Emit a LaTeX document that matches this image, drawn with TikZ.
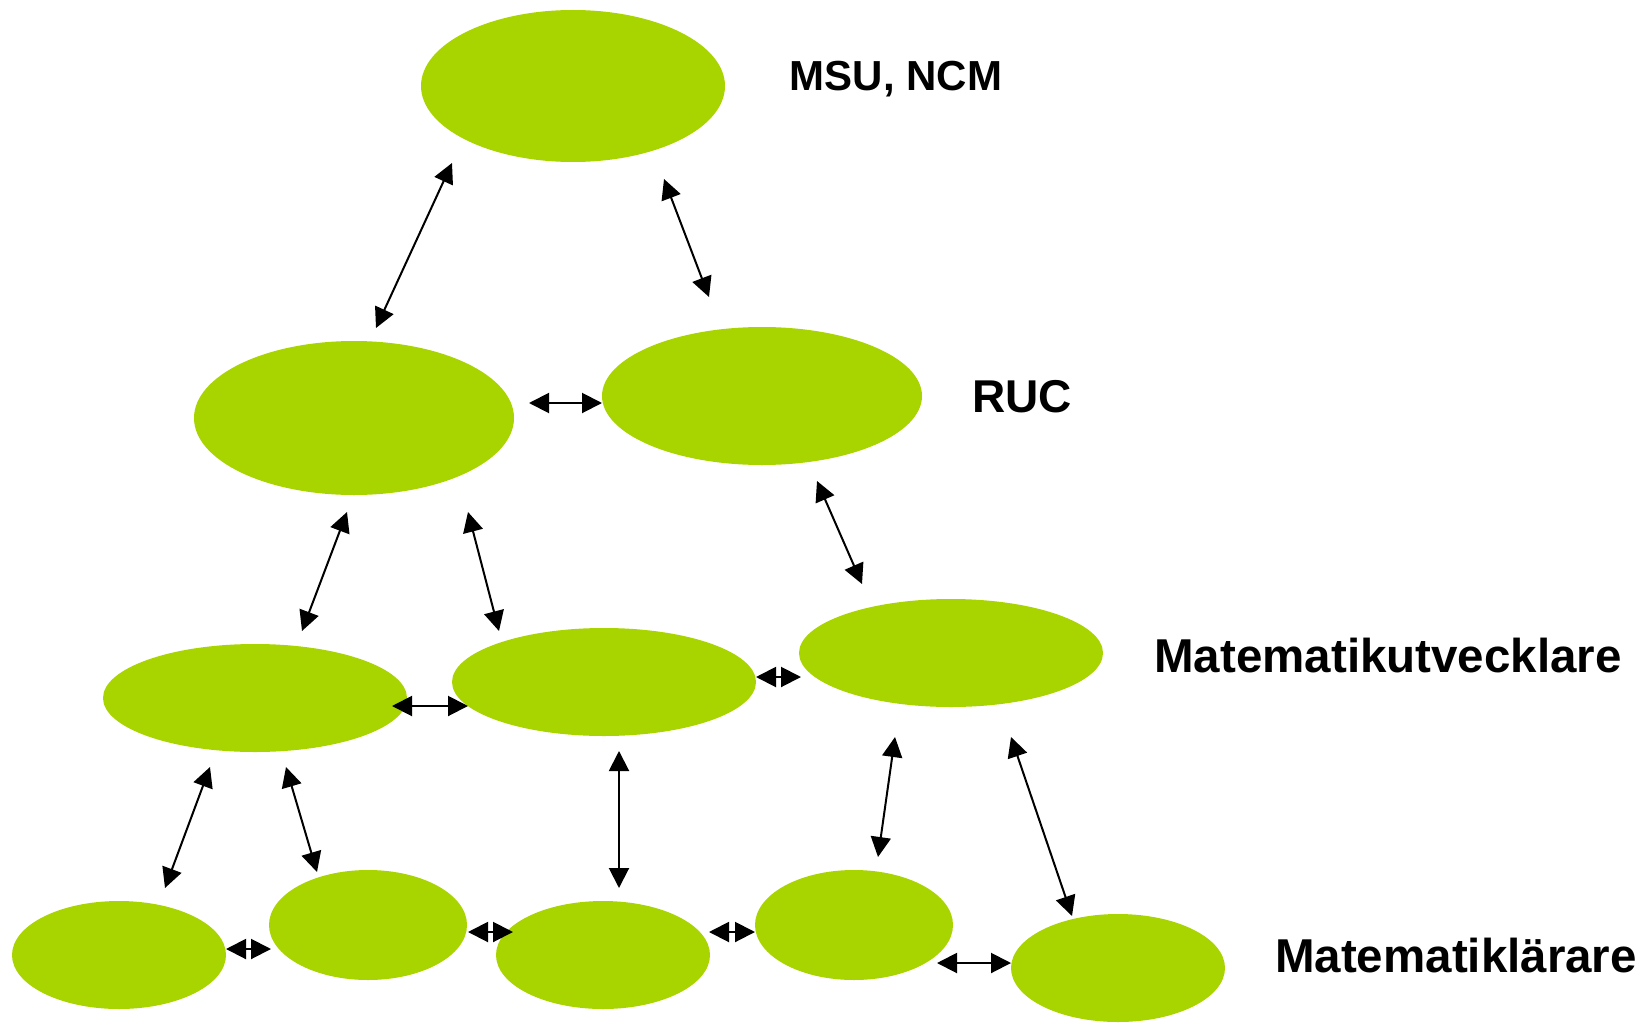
\documentclass[tikz,border=0pt]{standalone}
\usepackage{fontspec}
\setmainfont{Liberation Sans}
\usetikzlibrary{shapes.geometric,arrows.meta}
\definecolor{leaf}{RGB}{168,212,0}
\begin{document}
\begin{tikzpicture}[x=1pt,y=-1pt,
  blob/.style={ellipse,fill=leaf,draw=none,inner sep=0pt},
  lbl/.style={inner sep=0pt,font=\fontsize{47.5}{57}\selectfont\bfseries},
  link/.style={line width=2pt,{Triangle[length=20pt,width=20pt]}-{Triangle[length=20pt,width=20pt]}}]
\useasboundingbox (0,0) rectangle (1648,1022);
% ellipses
\node[blob,minimum width=304pt,minimum height=152pt] (top) at (573,86) {};
\node[blob,minimum width=320pt,minimum height=154pt] (rl) at (354,418) {};
\node[blob,minimum width=320pt,minimum height=138pt] (rr) at (762,396) {};
\node[blob,minimum width=304pt,minimum height=108pt] (ml) at (255,698) {};
\node[blob,minimum width=304pt,minimum height=108pt] (mm) at (604,682) {};
\node[blob,minimum width=304pt,minimum height=108pt] (mr) at (951,653) {};
\node[blob,minimum width=214pt,minimum height=108pt] (b1) at (119,955) {};
\node[blob,minimum width=198pt,minimum height=110pt] (b2) at (368,925) {};
\node[blob,minimum width=214pt,minimum height=108pt] (b3) at (603,955) {};
\node[blob,minimum width=198pt,minimum height=110pt] (b4) at (854,925) {};
\node[blob,minimum width=214pt,minimum height=108pt] (b5) at (1118,968) {};
% labels
\node[lbl,font=\fontsize{42}{50}\selectfont\bfseries] (t1) at (896,79) {MSU, NCM};
\node[lbl,font=\fontsize{46}{55}\selectfont\bfseries] (t2) at (1022,397) {RUC};
\node[lbl] (t3) at (1388,656) {Matematikutvecklare};
\node[lbl] (t4) at (1456,956) {Matematiklärare};
% arrow end points
\coordinate (a1s) at (452,163); \coordinate (a1e) at (376,328);
\coordinate (a2s) at (664,179); \coordinate (a2e) at (709,297);
\coordinate (a3s) at (529,403); \coordinate (a3e) at (602,403);
\coordinate (a4s) at (347,512); \coordinate (a4e) at (302,631);
\coordinate (a5s) at (468,512); \coordinate (a5e) at (499,631);
\coordinate (a6s) at (817,481); \coordinate (a6e) at (862,584);
\coordinate (a7s) at (392,706); \coordinate (a7e) at (468,706);
\coordinate (a8s) at (756,677); \coordinate (a8e) at (801,677);
\coordinate (a9s) at (210,767); \coordinate (a9e) at (165,888);
\coordinate (a10s) at (286,767); \coordinate (a10e) at (317,872);
\coordinate (a11s) at (619,751); \coordinate (a11e) at (619,888);
\coordinate (a12s) at (895,737); \coordinate (a12e) at (878,857);
\coordinate (a13s) at (1011,737); \coordinate (a13e) at (1072,916);
\coordinate (a14s) at (226,949); \coordinate (a14e) at (271,949);
\coordinate (a15s) at (468,932); \coordinate (a15e) at (513,932);
\coordinate (a16s) at (709,932); \coordinate (a16e) at (755,932);
\coordinate (a17s) at (937,963); \coordinate (a17e) at (1011,963);
% arrows
\foreach \i in {1,...,17} {\draw[link] (a\i s) -- (a\i e);}
\end{tikzpicture}
\end{document}
